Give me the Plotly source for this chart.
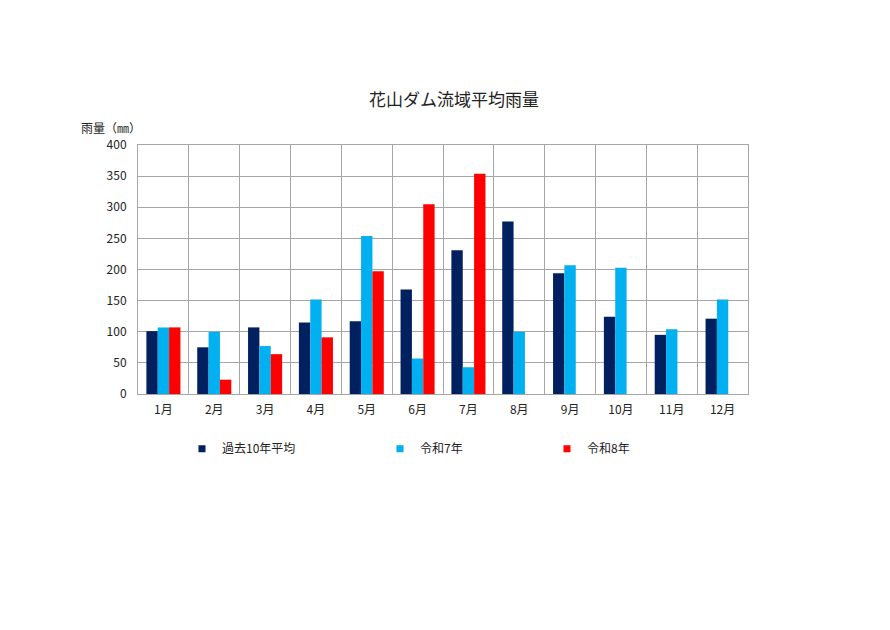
import plotly.graph_objects as go

months = ["1月", "2月", "3月", "4月", "5月", "6月",
          "7月", "8月", "9月", "10月", "11月", "12月"]

# 過去10年平均 / 令和7年 / 令和8年 (mm)
avg_10y = [101, 75, 107, 115, 117, 168, 231, 277, 194, 124, 95, 121]
r7 = [107, 100, 77, 152, 254, 57, 43, 100, 207, 203, 104, 152]
r8 = [107, 23, 64, 91, 197, 305, 354, None, None, None, None, None]

series = [
    ("過去10年平均", avg_10y, "#002060", "legend"),
    ("令和7年", r7, "#00B0F0", "legend2"),
    ("令和8年", r8, "#FF0000", "legend3"),
]

font = "Noto Sans CJK JP"
grid = "#a6a6a6"
# the page puts the figure 8px in from the top-left corner
off = 8

fig = go.Figure()
for name, vals, color, lg in series:
    fig.add_trace(go.Bar(x=months, y=vals, name=name, marker_color=color,
                         marker_line_width=0, showlegend=False))
    # small square legend marker like the original
    fig.add_trace(go.Scatter(x=[None], y=[None], mode="markers", name=name,
                             marker=dict(symbol="square", size=7, color=color),
                             legend=lg))

legend_common = dict(orientation="h", xanchor="left", y=-0.22,
                     yanchor="middle", bgcolor="rgba(0,0,0,0)",
                     font=dict(size=12))

fig.update_layout(
    width=890, height=630,
    paper_bgcolor="white", plot_bgcolor="white",
    margin=dict(l=138 - off, r=142 + off, t=145 - off, b=236 + off),
    font=dict(family=font, size=12, color="#222"),
    barmode="group", bargap=0.33, bargroupgap=0,
    title=dict(text="花山ダム流域平均雨量", x=(454 - off) / 890, xanchor="center",
               y=1 - (100 - off) / 630, yanchor="middle",
               font=dict(size=17, color="#222")),
    xaxis=dict(type="category", tickson="boundaries", showgrid=True,
               gridcolor=grid, gridwidth=1, showline=True, linecolor=grid,
               mirror=True, ticks="", ticklabelstandoff=5,
               tickfont=dict(size=12)),
    yaxis=dict(range=[0, 400], dtick=50, showgrid=True, gridcolor=grid,
               gridwidth=1, showline=True, linecolor=grid, mirror=True,
               zeroline=False, ticks="", ticklabelstandoff=8,
               tickfont=dict(size=12)),
    legend=dict(x=(222 - 40 - 138) / 610, **legend_common),
    legend2=dict(x=(420 - 40 - 138) / 610, **legend_common),
    legend3=dict(x=(587 - 40 - 138) / 610, **legend_common),
    annotations=[dict(text="雨量（㎜）", xref="paper", yref="paper",
                      x=0, xanchor="right", xshift=5, y=1, yanchor="bottom",
                      yshift=7, showarrow=False, font=dict(size=12))],
)

fig.write_html("out.html")
